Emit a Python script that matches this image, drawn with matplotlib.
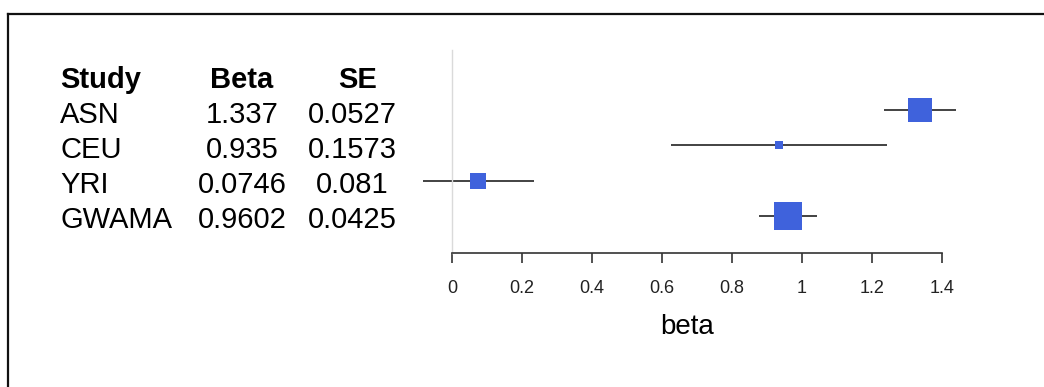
import matplotlib.pyplot as plt
from matplotlib.lines import Line2D

import numpy as np

# study results
studies = ["ASN", "CEU", "YRI", "GWAMA"]
betas = [1.337, 0.935, 0.0746, 0.9602]
ses = [0.0527, 0.1573, 0.081, 0.0425]
x_ticks = [0, 0.2, 0.4, 0.6, 0.8, 1, 1.2, 1.4]
x_tick_labels = ["0", "0.2", "0.4", "0.6", "0.8", "1", "1.2", "1.4"]

W, H, DPI = 1044, 387, 100
TEXT_FONT = ["Liberation Sans", "DejaVu Sans"]
TICK_FONT = ["Liberation Sans Narrow", "Liberation Sans", "DejaVu Sans"]
BOX_COLOR = "#3f62dc"
TABLE_SIZE = 21


def fx(px):
    return px / W


def fy(py):
    return 1 - py / H


fig = plt.figure(figsize=(W / DPI, H / DPI), dpi=DPI)

# frame along the top and left edges
fig.add_artist(Line2D([fx(8), 1], [fy(14), fy(14)], color="#111111", lw=1.6))
fig.add_artist(Line2D([fx(8), fx(8)], [fy(14), 0], color="#111111", lw=1.6))

# forest panel: x 0..1.4 spans pixels 452..942, rows spaced 35.5 px from y=109.5
ax_top, ax_bottom = 50, 253
row0, row_step = 109.5, 35.5
ax = fig.add_axes([fx(452), fy(ax_bottom), fx(942) - fx(452), (ax_bottom - ax_top) / H])
ax.set_xlim(0, 1.4)
ax.set_ylim((ax_bottom - row0) / row_step, -(row0 - ax_top) / row_step)

betas_arr = np.array(betas)
ses_arr = np.array(ses)
lo = betas_arr - 1.96 * ses_arr
hi = betas_arr + 1.96 * ses_arr
rows = np.arange(len(studies))

ax.hlines(rows, lo, hi, color="#222222", lw=1.2, clip_on=False, zorder=2)
for r, b, se in zip(rows, betas_arr, ses_arr):
    side_px = 1.23 / se
    ax.plot(b, r, marker="s", ms=side_px * 72 / DPI, mew=0,
            color=BOX_COLOR, clip_on=False, zorder=3)

for side in ["top", "right"]:
    ax.spines[side].set_visible(False)
ax.spines["left"].set_color("#dadada")
ax.spines["left"].set_linewidth(1.0)
ax.spines["bottom"].set_color("#333333")
ax.spines["bottom"].set_linewidth(1.2)
ax.set_yticks([])
ax.set_xticks(x_ticks)
ax.set_xticklabels(x_tick_labels, family=TICK_FONT, fontsize=13, color="#222222")
ax.tick_params(axis="x", direction="out", length=7.2, width=1.2,
               color="#333333", pad=12)

fig.text(fx(687), fy(327), "beta", ha="center", va="center",
         family=TEXT_FONT, fontsize=20)

# table of study estimates
col_study, col_beta, col_se = 60, 242, 352
header_base = 88
row_gap = 35
fig.text(fx(col_study), fy(header_base), "Study", ha="left", va="baseline",
         family=TEXT_FONT, fontsize=TABLE_SIZE, fontweight="bold")
fig.text(fx(col_beta), fy(header_base), "Beta", ha="center", va="baseline",
         family=TEXT_FONT, fontsize=TABLE_SIZE, fontweight="bold")
fig.text(fx(col_se + 6), fy(header_base), "SE", ha="center", va="baseline",
         family=TEXT_FONT, fontsize=TABLE_SIZE, fontweight="bold")
for i, (name, b, se) in enumerate(zip(studies, betas, ses)):
    base = header_base + row_gap * (i + 1)
    fig.text(fx(col_study), fy(base), name, ha="left", va="baseline",
             family=TEXT_FONT, fontsize=TABLE_SIZE)
    fig.text(fx(col_beta), fy(base), f"{b:g}", ha="center", va="baseline",
             family=TEXT_FONT, fontsize=TABLE_SIZE)
    fig.text(fx(col_se), fy(base), f"{se:g}", ha="center", va="baseline",
             family=TEXT_FONT, fontsize=TABLE_SIZE)

fig.savefig("out.png", dpi=DPI)
